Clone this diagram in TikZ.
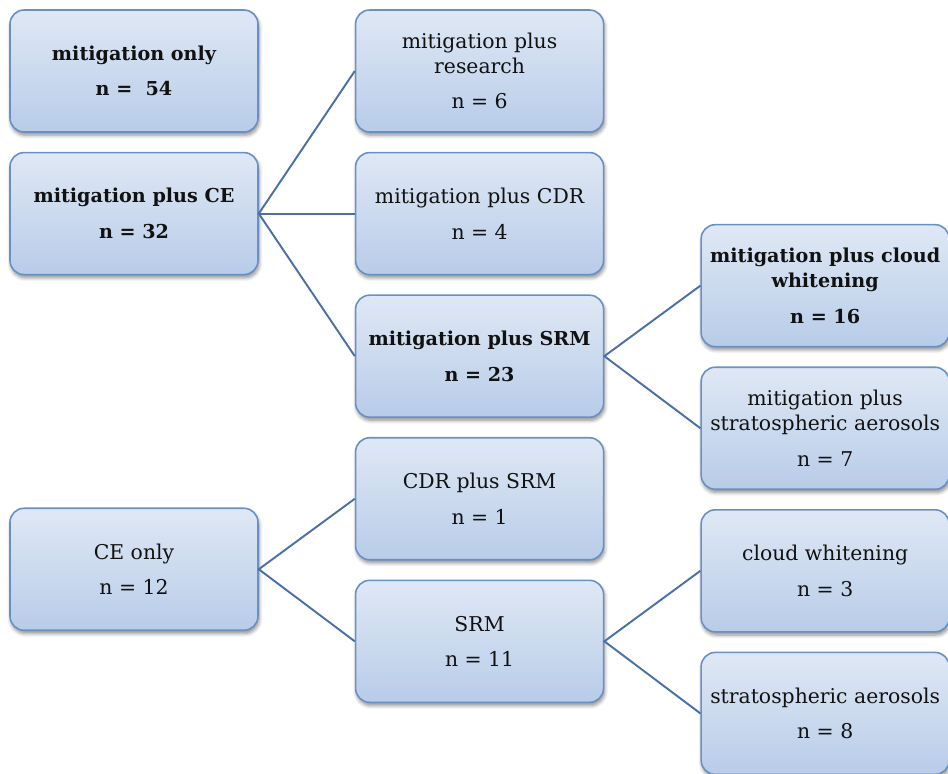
\documentclass[tikz,border=0pt]{standalone}
\usepackage{fontspec}
\setmainfont{DejaVu Serif}
\usetikzlibrary{positioning,shadows.blur}
\definecolor{ink}{HTML}{111111}
\definecolor{edge}{HTML}{6990C4}
\definecolor{boxtop}{HTML}{DFE8F5}
\definecolor{boxbot}{HTML}{B8CCE8}
\definecolor{link}{HTML}{4A70A6}
\tikzset{
  group/.style={draw=edge,line width=0.9pt,top color=boxtop,bottom color=boxbot,rounded corners=8pt,
    minimum width=4.96cm,minimum height=2.44cm,align=center,text=ink,
    font=\fontsize{11.6}{14.2}\selectfont,
    blur shadow={shadow xshift=0.6pt,shadow yshift=-1.8pt,shadow blur steps=6,shadow opacity=45}},
  keygroup/.style={group,font=\fontsize{10.9}{14.2}\selectfont\bfseries},
  branch/.style={line width=1.1pt,draw=link}
}
\begin{document}
\begin{tikzpicture}[node distance=0.38cm and 1.92cm]
  \useasboundingbox (-2.68,1.42) rectangle (16.28,-14.04);
  \node[keygroup] (only) {mitigation only\\[6pt]n =\ \ 54};
  \node[keygroup,below=of only] (ce) {mitigation plus CE\\[6pt]n = 32};
  \node[group,right=of only] (research) {mitigation plus\\research\\[6pt]n = 6};
  \node[group,below=of research] (cdr) {mitigation plus CDR\\[6pt]n = 4};
  \node[keygroup,below=of cdr] (srm) {mitigation plus SRM\\[6pt]n = 23};
  \node[keygroup,right=of srm,yshift=1.41cm] (cloud) {mitigation plus cloud\\whitening\\[6pt]n = 16};
  \node[group,below=of cloud] (aero) {mitigation plus\\stratospheric aerosols\\[6pt]n = 7};
  \node[group,below=of srm] (cdrsrm) {CDR plus SRM\\[6pt]n = 1};
  \node[group,below=of cdrsrm] (srmonly) {SRM\\[6pt]n = 11};
  \node[group,left=of cdrsrm,yshift=-1.41cm] (ceonly) {CE only\\[6pt]n = 12};
  \node[group,right=of srmonly,yshift=1.41cm] (cw) {cloud whitening\\[6pt]n = 3};
  \node[group,below=of cw] (sa) {stratospheric aerosols\\[6pt]n = 8};

  \draw[branch] (research.west) -- (ce.east) -- (srm.west);
  \draw[branch] (ce.east) -- (cdr.west);
  \draw[branch] (cloud.west) -- (srm.east) -- (aero.west);
  \draw[branch] (cdrsrm.west) -- (ceonly.east) -- (srmonly.west);
  \draw[branch] (cw.west) -- (srmonly.east) -- (sa.west);
\end{tikzpicture}
\end{document}
